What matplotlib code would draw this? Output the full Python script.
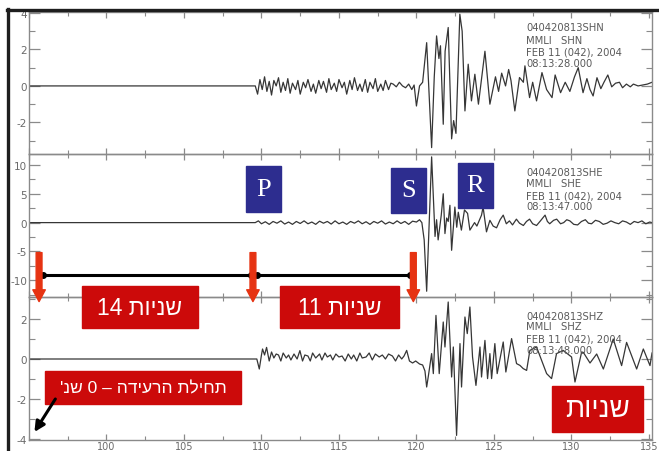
import numpy as np
import matplotlib.pyplot as plt
from matplotlib.patches import Rectangle
from matplotlib.lines import Line2D
from matplotlib.ticker import MultipleLocator

plt.rcParams['axes.unicode_minus'] = False

# seismogram traces: time (s) and amplitude at each vertex
shn_t = [95.0, 109.6, 109.75, 109.9, 110.05, 110.2, 110.35, 110.5, 110.65, 110.8, 110.95,
         111.1, 111.25, 111.4, 111.55, 111.7, 111.85, 112.0, 112.2, 112.35, 112.5,
         112.7, 112.85, 113.0, 113.2, 113.35, 113.5, 113.7, 113.85, 114.0, 114.2,
         114.35, 114.5, 114.7, 114.85, 115.0, 115.2, 115.35, 115.5, 115.7, 115.85,
         116.0, 116.2, 116.35, 116.5, 116.7, 116.85, 117.0, 117.2, 117.35, 117.5,
         117.7, 117.85, 118.0, 118.2, 118.35, 118.5, 118.7, 118.9, 119.1, 119.3,
         119.5, 119.7, 119.85, 120.0, 120.2, 120.4, 120.66, 120.98, 121.15, 121.3,
         121.45, 121.55, 121.73, 121.85, 122.05, 122.27, 122.4, 122.55, 122.8, 122.95,
         123.13, 123.34, 123.55, 123.77, 124.0, 124.42, 124.74, 125.1, 125.3, 125.5,
         125.75, 125.95, 126.1, 126.35, 126.65, 126.9, 127.0, 127.3, 127.5, 127.75,
         128.1, 128.4, 128.75, 128.95, 129.3, 129.6, 129.9, 130.2, 130.44, 130.75,
         131.0, 131.2, 131.4, 131.65, 131.9, 132.1, 132.35, 132.6, 132.85, 133.1,
         133.3, 133.55, 133.8, 134.0, 134.3, 134.6, 134.9, 135.2]
shn_v = [0.0, 0.0, -0.45, 0.35, -0.2, 0.5, -0.3, 0.25, -0.5, 0.3, 0.0,
         0.45, -0.35, 0.2, -0.25, 0.4, -0.4, 0.15, -0.2, 0.3, -0.45,
         0.2, -0.1, 0.35, -0.3, 0.1, -0.4, 0.3, -0.15, 0.25, -0.35,
         0.4, -0.2, 0.15, -0.3, 0.35, -0.1, 0.2, -0.45, 0.3, -0.2,
         0.45, -0.25, 0.1, -0.3, 0.35, -0.35, 0.2, -0.15, 0.4, -0.3,
         0.1, -0.25, 0.3, -0.2, 0.15, 0.1, -0.05, 0.2, 0.0, -0.1,
         0.1, -0.2, 0.05, -1.1, 0.0, 0.2, 2.37, -3.38, 0.5, 2.74,
         1.5, 2.2, -2.1, 1.9, 3.2, -2.9, -1.9, -2.6, 3.93, 3.0,
         -1.37, 1.19, -0.82, 0.64, -1.0, 1.9, -1.0, 0.5, -0.3, 0.7,
         0.0, 0.9, 0.3, -1.37, 0.46, 0.2, 1.1, -0.64, 0.2, -0.82,
         0.73, -0.2, -0.64, 0.6, -0.37, 0.2, -0.3, 0.5, 1.0, -0.37,
         0.4, -0.2, -0.55, 0.45, -0.15, 0.2, 0.6, -0.05, 0.15, 0.2,
         -0.1, 0.1, -0.05, 0.1, 0.0, 0.05, 0.1, 0.2]

she_t = [95.0, 109.6, 109.8, 110.0, 110.25, 110.5, 110.75, 111.0, 111.25, 111.5, 111.75,
         112.0, 112.25, 112.5, 112.75, 113.0, 113.25, 113.5, 113.75, 114.0, 114.25,
         114.5, 114.75, 115.0, 115.25, 115.5, 115.75, 116.0, 116.25, 116.5, 116.75,
         117.0, 117.25, 117.5, 117.75, 118.0, 118.25, 118.5, 118.75, 119.0, 119.25,
         119.5, 119.75, 120.0, 120.2, 120.35, 120.5, 120.66, 120.98, 121.2, 121.3,
         121.4, 121.6, 121.73, 121.84, 121.95, 122.05, 122.16, 122.27, 122.48, 122.6,
         122.7, 122.9, 123.1, 123.3, 123.45, 123.75, 123.9, 124.2, 124.3, 124.52,
         124.74, 124.95, 125.17, 125.4, 125.6, 125.8, 126.0, 126.2, 126.45, 126.65,
         126.9, 127.1, 127.3, 127.5, 127.75, 128.0, 128.3, 128.45, 128.6, 128.85,
         129.05, 129.3, 129.5, 129.7, 129.9, 130.15, 130.4, 130.65, 130.9, 131.1,
         131.3, 131.55, 131.8, 132.05, 132.3, 132.55, 132.8, 133.05, 133.3, 133.55,
         133.8, 134.05, 134.3, 134.55, 134.8, 135.05, 135.2]
she_v = [0.0, 0.0, 0.3, -0.2, 0.15, -0.3, 0.2, -0.1, 0.3, -0.25, 0.1,
         -0.3, 0.2, -0.15, 0.3, -0.2, 0.1, -0.3, 0.25, -0.1, 0.2,
         -0.25, 0.3, -0.2, 0.1, -0.3, 0.2, -0.1, 0.3, -0.2, 0.15,
         -0.3, 0.2, -0.1, 0.3, -0.25, 0.1, -0.2, 0.3, -0.15, 0.2,
         -0.3, 0.25, 0.1, 0.5, 0.0, -3.0, -11.9, 11.4, -2.4, 0.5,
         -3.0, 1.26, 5.0, -1.9, 0.8, 0.2, 3.0, -4.8, 2.7, -0.8,
         1.8, -1.3, 2.2, 1.6, -1.3, 0.0, -0.6, 1.3, 2.7, -1.6,
         0.4, -0.6, -0.9, 0.5, 1.3, -0.2, 0.3, -0.4, 0.6, -0.1,
         -0.5, 0.2, 0.6, -0.2, -0.5, 0.3, 1.3, 0.2, -0.2, 0.4,
         0.6, -0.2, 0.0, 0.5, 0.3, -0.3, -0.4, 0.2, 0.5, -0.1,
         -0.2, 0.4, 0.2, -0.3, -0.1, 0.3, 0.0, -0.2, 0.3, 0.1,
         -0.3, 0.2, 0.0, 0.3, -0.2, 0.1, 0.0]

shz_t = [95.0, 109.5, 109.7, 109.86, 110.0, 110.07, 110.2, 110.33, 110.5, 110.65, 110.8,
         110.95, 111.1, 111.25, 111.4, 111.6, 111.75, 111.9, 112.1, 112.3, 112.48,
         112.65, 112.8, 113.0, 113.15, 113.3, 113.5, 113.75, 113.9, 114.1, 114.25,
         114.45, 114.6, 114.8, 115.0, 115.2, 115.4, 115.6, 115.8, 115.95, 116.15,
         116.35, 116.5, 116.75, 116.95, 117.15, 117.35, 117.6, 117.8, 118.0, 118.2,
         118.45, 118.65, 118.85, 119.05, 119.2, 119.37, 119.55, 119.75, 119.95, 120.2,
         120.4, 120.55, 120.66, 120.76, 120.98, 121.09, 121.26, 121.47, 121.73, 121.84,
         122.05, 122.27, 122.38, 122.59, 122.81, 122.91, 123.13, 123.28, 123.45, 123.62,
         123.84, 124.1, 124.2, 124.42, 124.59, 124.74, 124.85, 125.06, 125.21, 125.6,
         125.77, 126.14, 126.46, 126.68, 126.89, 127.11, 127.32, 127.75, 128.4, 128.72,
         129.04, 129.47, 130.01, 130.23, 130.66, 130.77, 131.2, 131.63, 132.06, 132.7,
         133.24, 133.56, 134.21, 134.64, 135.07, 135.2]
shz_v = [0.0, 0.0, 0.0, -0.5, 0.2, 0.5, 0.2, 0.58, -0.1, 0.35, 0.05,
         0.25, 0.2, -0.1, 0.3, 0.05, 0.2, -0.05, 0.25, 0.0, 0.42,
         -0.1, 0.2, 0.15, -0.1, 0.3, 0.05, 0.25, -0.05, 0.3, 0.1,
         0.2, -0.05, 0.25, 0.1, 0.15, -0.1, 0.25, 0.0, 0.2, -0.1,
         0.3, 0.05, 0.1, 0.3, -0.05, 0.25, 0.1, 0.2, 0.0, 0.25,
         0.15, -0.1, 0.2, 0.0, 0.15, 0.43, -0.1, -0.2, -0.1, -0.25,
         -0.3, -0.6, -1.4, -0.9, 0.27, -0.73, 2.18, -0.73, 1.85, 0.6,
         2.85, -0.9, 0.6, -3.82, 0.77, -1.4, 2.1, 1.27, 2.6, 0.1,
         -1.32, 0.6, -0.9, 0.93, -0.98, 0.27, -0.98, 0.77, -0.73, 0.85,
         -0.65, 1.02, -0.23, -0.32, -0.48, -0.57, 0.43, 0.6, -0.73, -0.98,
         0.27, 0.43, 0.1, -1.15, 0.35, 0.33, -0.2, 0.25, -0.5, 1.0,
         -0.33, 0.83, -0.5, 0.5, -0.33, 0.3]

stations = ['SHN', 'SHE', 'SHZ']
start_times = ['08:13:28.000', '08:13:47.000', '08:13:48.000']
event_id = '040420813'
date_text = 'FEB 11 (042), 2004'
x_ticks = [100, 105, 110, 115, 120, 125, 130, 135]

# arrival times marked on the record
quake_start, p_arrival, s_arrival = 95.65, 109.45, 119.8

trace_col = '#363636'
axis_col = '#8a8a8a'
label_col = '#6a6a6a'
red = '#cc0a0a'
arrow_red = '#e63312'
blue = '#2d2d8f'
heb = ['Liberation Sans', 'DejaVu Sans']


def rtl(s):
    # matplotlib has no bidi support, so flip Hebrew to visual order
    return s[::-1]


fig = plt.figure(figsize=(6.59, 4.52), dpi=100)
W, H = 659, 452
left, right = 29, 652


def panel(top, bot):
    return [left / W, 1 - bot / H, (right - left) / W, (bot - top) / H]


ax1 = fig.add_axes(panel(13, 155))
ax2 = fig.add_axes(panel(155, 298))
ax3 = fig.add_axes(panel(298, 441))
axes = [ax1, ax2, ax3]

cfg = [(shn_t, shn_v, (-3.73, 4.05), 2, 1),
       (she_t, she_v, (-12.9, 11.9), 5, 2.5),
       (shz_t, shz_v, (-4.05, 3.1), 2, 1)]
head_offsets = [[15, 27.5, 39.5, 50.5], [17.5, 29, 41.5, 52.5], [18.5, 29.5, 41.5, 52.5]]

for i, (ax, (t, v, ylim, major, minor)) in enumerate(zip(axes, cfg)):
    ax.plot(t, v, color=trace_col, lw=0.9)
    ax.set_xlim(95, 135.2)
    ax.set_ylim(*ylim)
    ax.xaxis.set_major_locator(MultipleLocator(5))
    ax.xaxis.set_minor_locator(MultipleLocator(2.5))
    ax.yaxis.set_major_locator(MultipleLocator(major))
    ax.yaxis.set_minor_locator(MultipleLocator(minor))
    ax.tick_params(axis='both', which='both', direction='in', top=True, right=True,
                   color=axis_col, labelcolor=label_col, labelsize=7.5, pad=1.5)
    ax.tick_params(axis='y', which='major', length=8, width=0.9)
    ax.tick_params(axis='y', which='minor', length=4.5, width=0.8)
    ax.tick_params(axis='x', which='major', length=4.5, width=0.9)
    ax.tick_params(axis='x', which='minor', length=3, width=0.8)
    for sp in ax.spines.values():
        sp.set_color(axis_col)
        sp.set_linewidth(1.0)
    if i < 2:
        ax.tick_params(axis='x', labelbottom=False)
    lines = [event_id + stations[i], 'MMLI   ' + stations[i], date_text, start_times[i]]
    for txt, off in zip(lines, head_offsets[i]):
        ax.annotate(txt, xy=(0.798, 1), xycoords='axes fraction',
                    xytext=(0, -off * 0.72), textcoords='offset points',
                    va='center', ha='left', fontsize=7.2, color='#5a5a5a')

ax3.set_xticks(x_ticks)
ax3.set_xticklabels([str(x) for x in x_ticks])
ax3.tick_params(axis='x', which='major', labelsize=7, pad=0.5)

# the middle panel carries the annotations that spill over the panel border
ax2.set_zorder(3)
ax2.patch.set_visible(False)

# phase boxes P, S, R
for lab, x0, y0, y1 in [('P', 109.0, 1.9, 9.83), ('S', 118.35, 1.72, 9.48),
                        ('R', 122.68, 2.59, 10.34)]:
    ax2.add_patch(Rectangle((x0, y0), 2.26, y1 - y0, color=blue, zorder=5))
    ax2.text(x0 + 1.13, (y0 + y1) / 2, lab, color='white', fontsize=19,
             family='Liberation Serif', ha='center', va='center', zorder=6)

# time line between quake start, P and S
ax2.plot([95.9, 119.6], [-9, -9], color='black', lw=2.2, clip_on=False, zorder=6)
ax2.plot([95.9, 109.3, 109.7, 119.6], [-9, -9, -9, -9], 'o', color='black',
         ms=4, clip_on=False, zorder=6)

for x in [quake_start, p_arrival, s_arrival]:
    ax2.annotate('', xy=(x, -13.7), xytext=(x, -5.2),
                 arrowprops=dict(arrowstyle='simple,head_width=0.9,head_length=0.85,tail_width=0.42',
                                 mutation_scale=10, color=arrow_red, shrinkA=0, shrinkB=0),
                 annotation_clip=False, zorder=7)

for x0, w, txt in [(98.42, 7.48, '14 ' + rtl('שניות')), (111.19, 7.68, '11 ' + rtl('שניות'))]:
    ax2.add_patch(Rectangle((x0, -18.28), w, 7.25, color=red, clip_on=False, zorder=8))
    ax2.text(x0 + w / 2, -14.66, txt, color='white', fontsize=16.5, family=heb,
             ha='center', va='center', zorder=9, clip_on=False)

# start of the quake label and seconds label in the bottom panel
ax3.add_patch(Rectangle((96.03, -2.25), 12.65, 1.65, color=red, zorder=5))
ax3.text(102.35, -1.43, rtl("תחילת הרעידה – 0 שנ'"), color='white', fontsize=12.5,
         family=heb, ha='center', va='center', zorder=6)
ax3.annotate('', xy=(95.35, -3.65), xytext=(96.7, -2.0),
             arrowprops=dict(arrowstyle='-|>,head_width=0.3,head_length=0.6',
                             color='black', lw=2.2, shrinkA=0, shrinkB=0),
             annotation_clip=False, zorder=7)

ax3.add_patch(Rectangle((128.74, -3.65), 5.87, 2.3, color=red, zorder=5))
ax3.text(131.68, -2.5, rtl('שניות'), color='white', fontsize=20, family=heb,
         ha='center', va='center', zorder=6)

# dark frame of the original scan
fig.add_artist(Line2D([8 / W, 8 / W], [0, 1 - 10 / H], transform=fig.transFigure,
                      color='#1e1e1e', lw=2.4))
fig.add_artist(Line2D([7 / W, 1], [1 - 11 / H, 1 - 11 / H], transform=fig.transFigure,
                      color='#1e1e1e', lw=2.4))

fig.savefig('out.png', dpi=100)
